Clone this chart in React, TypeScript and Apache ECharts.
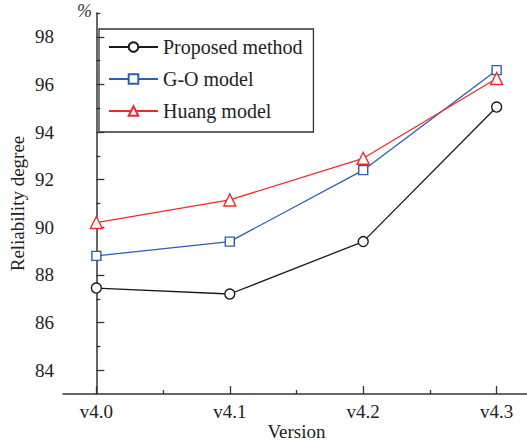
import React, { useEffect, useRef } from "react";
import * as echarts from "echarts";

const categories = ["v4.0", "v4.1", "v4.2", "v4.3"];
const proposed = [87.45, 87.2, 89.4, 95.05];
const goModel = [88.8, 89.4, 92.4, 96.6];
const huangModel = [90.2, 91.15, 92.9, 96.25];
const yMajorTicks = [84, 86, 88, 90, 92, 94, 96, 98];
const yMinorTicks = [85, 87, 89, 91, 93, 95, 97, 99];
const xMajorTicks = [0, 1, 2, 3];
const xMinorTicks = [0.5, 1.5, 2.5];

const FONT = "'Liberation Serif', 'Times New Roman', serif";
const AXIS_COLOR = "#333";

export default function App() {
  const ref = useRef<HTMLDivElement>(null);
  useEffect(() => {
    if (!ref.current) return;
    const chart = echarts.init(ref.current, undefined, { renderer: "svg" });
    const toPairs = (arr: number[]) => arr.map((v, i) => [i, v]);
    const baseX = {
      type: "value",
      min: -0.25,
      max: 3.25,
      position: "bottom",
      splitLine: { show: false },
    };
    const baseY = {
      type: "value",
      min: 83,
      max: 99,
      position: "left",
      splitLine: { show: false },
    };
    chart.setOption({
      animation: false,
      backgroundColor: "#fff",
      grid: {
        left: 63,
        right: -3,
        top: 13,
        bottom: 47,
        containLabel: false,
        outerBoundsMode: "none",
      },
      legend: {
        orient: "vertical",
        left: 99,
        top: 29,
        padding: [8, 11, 11, 9],
        itemWidth: 49,
        itemHeight: 12,
        itemGap: 12,
        borderColor: "#333",
        borderWidth: 1.3,
        textStyle: { fontFamily: FONT, fontSize: 20, color: "#222", lineHeight: 20 },
        data: ["Proposed method", "G-O model", "Huang model"],
      },
      xAxis: [
        {
          ...baseX,
          name: "Version",
          nameLocation: "middle",
          nameGap: 28,
          nameMoveOverlap: false,
          nameTextStyle: { fontFamily: FONT, fontSize: 19, color: "#222" },
          axisLine: { show: true, lineStyle: { color: AXIS_COLOR, width: 1.5 } },
          axisTick: {
            show: true,
            inside: true,
            length: 8,
            customValues: xMajorTicks,
            lineStyle: { color: AXIS_COLOR, width: 1.3 },
          },
          axisLabel: {
            customValues: xMajorTicks,
            margin: 8,
            fontFamily: FONT,
            fontSize: 19,
            color: "#222",
            formatter: (v: number) => categories[Math.round(v)] ?? "",
          },
        },
        {
          ...baseX,
          axisLine: { show: false },
          axisTick: {
            show: true,
            inside: true,
            length: 4,
            customValues: xMinorTicks,
            lineStyle: { color: AXIS_COLOR, width: 1.3 },
          },
          axisLabel: { show: false },
        },
      ],
      yAxis: [
        {
          ...baseY,
          name: "Reliability degree",
          nameLocation: "middle",
          nameGap: 36,
          nameMoveOverlap: false,
          nameTextStyle: { fontFamily: FONT, fontSize: 19, color: "#222" },
          axisLine: { show: true, lineStyle: { color: AXIS_COLOR, width: 1.5 } },
          axisTick: {
            show: true,
            inside: true,
            length: 8,
            customValues: yMajorTicks,
            lineStyle: { color: AXIS_COLOR, width: 1.3 },
          },
          axisLabel: {
            customValues: yMajorTicks,
            margin: 9,
            fontFamily: FONT,
            fontSize: 19,
            color: "#222",
          },
        },
        {
          ...baseY,
          axisLine: { show: false },
          axisTick: {
            show: true,
            inside: true,
            length: 4,
            customValues: yMinorTicks,
            lineStyle: { color: AXIS_COLOR, width: 1.3 },
          },
          axisLabel: { show: false },
        },
      ],
      graphic: [
        {
          type: "text",
          left: 77,
          top: 2,
          style: {
            text: "%",
            fontFamily: FONT,
            fontStyle: "italic",
            fontSize: 18,
            fill: "#333",
          },
        },
      ],
      series: [
        {
          name: "Proposed method",
          type: "line",
          data: toPairs(proposed),
          symbol: "circle",
          symbolSize: 10,
          lineStyle: { color: "#1a1a1a", width: 1.3 },
          itemStyle: { color: "#fff", borderColor: "#1a1a1a", borderWidth: 1.4 },
        },
        {
          name: "G-O model",
          type: "line",
          data: toPairs(goModel),
          symbol: "rect",
          symbolSize: 9,
          lineStyle: { color: "#2f5eb0", width: 1.3 },
          itemStyle: { color: "#fff", borderColor: "#2f5eb0", borderWidth: 1.4 },
        },
        {
          name: "Huang model",
          type: "line",
          data: toPairs(huangModel),
          symbol: "triangle",
          symbolSize: 12,
          lineStyle: { color: "#ee2b2b", width: 1.3 },
          itemStyle: { color: "#fff", borderColor: "#ee2b2b", borderWidth: 1.4 },
        },
      ],
    });
    return () => chart.dispose();
  }, []);
  return <div ref={ref} style={{ width: 527, height: 441, position: "fixed", left: 0, top: 0 }} />;
}
